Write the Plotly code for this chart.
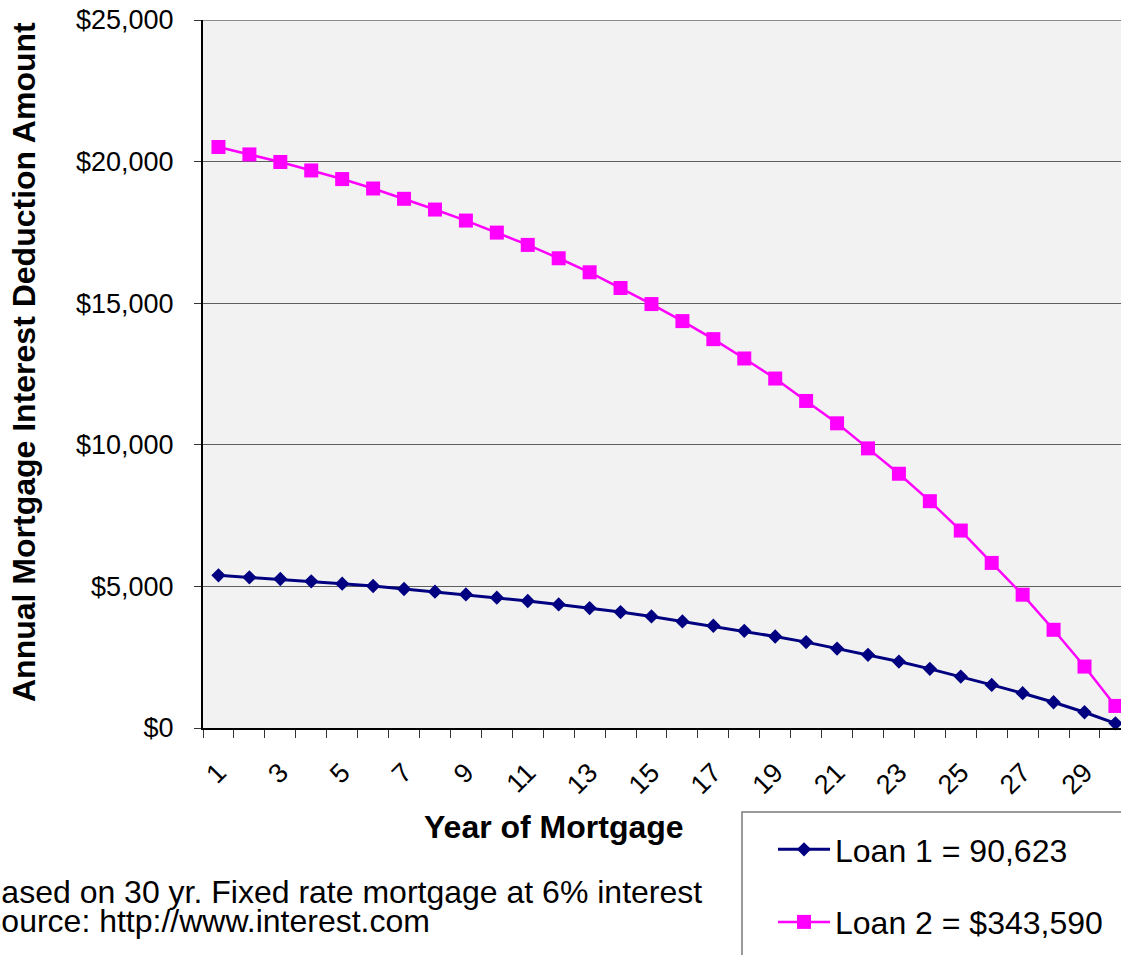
import plotly.graph_objects as go

# Year of the mortgage and annual interest deduction for each loan
years = list(range(1, 31))
loan1 = [5390, 5319, 5262, 5178, 5096, 5015, 4909, 4813, 4718, 4601,
         4484, 4364, 4236, 4095, 3939, 3762, 3610, 3433, 3231, 3033,
         2806, 2583, 2346, 2088, 1816, 1522, 1228, 910, 556, 166]
loan2 = [20516, 20254, 19985, 19688, 19383, 19050, 18686, 18307, 17918, 17493,
         17058, 16587, 16092, 15536, 14970, 14368, 13731, 13048, 12340, 11548,
         10759, 9874, 8978, 8009, 6972, 5829, 4707, 3468, 2169, 779]
loan1_name = "Loan 1 = 90,623"
loan2_name = "Loan 2 = $343,590"
x_labels = [str(v) for v in range(1, 30, 2)]
y_ticks = [0, 5000, 10000, 15000, 20000, 25000]
y_labels = ["$0", "$5,000", "$10,000", "$15,000", "$20,000", "$25,000"]

W, H = 1121, 955
L, T, B = 203, 20, 227
PW, PH = W - L, H - T - B
FONT = "Liberation Sans, Arial, sans-serif"


def px(x):
    return (x - L) / PW


def py(y):
    return (H - B - y) / PH


fig = go.Figure()
fig.add_trace(go.Scatter(
    x=years, y=loan1, name=loan1_name, mode="lines+markers",
    line=dict(color="#000080", width=3),
    marker=dict(symbol="diamond", size=11, color="#000080"),
    cliponaxis=False, legendgroup="a",
))
fig.add_trace(go.Scatter(
    x=years, y=loan2, name=loan2_name, mode="lines+markers",
    line=dict(color="#FF00FF", width=2.5),
    marker=dict(symbol="square", size=14, color="#FF00FF"),
    cliponaxis=False, legendgroup="b",
))

fig.update_layout(
    width=W, height=H,
    margin=dict(l=L, r=0, t=T, b=B, pad=0),
    paper_bgcolor="white",
    plot_bgcolor="#F2F2F2",
    font=dict(family=FONT, color="black", size=26),
    showlegend=True,
    legend=dict(
        x=px(773), y=py(822), xanchor="left", yanchor="top",
        font=dict(size=32, family=FONT, color="black"),
        bgcolor="rgba(0,0,0,0)", borderwidth=0,
        tracegroupgap=28, traceorder="grouped", itemwidth=52,
    ),
    xaxis=dict(
        range=[0.5, 30.18],
        tickmode="array", tickvals=list(range(1, 30, 2)), ticktext=x_labels,
        tickangle=-45, ticks="", ticklabelstandoff=16,
        tickfont=dict(size=27, family=FONT, color="black"),
        showline=True, linecolor="black", linewidth=2,
        showgrid=False, zeroline=False,
        minor=dict(tickvals=[i + 0.5 for i in range(0, 31)], ticks="outside",
                   ticklen=8, tickcolor="#333333", tickwidth=1, showgrid=False),
    ),
    yaxis=dict(
        range=[0, 25000],
        tickmode="array", tickvals=y_ticks, ticktext=y_labels,
        ticks="outside", ticklen=7, tickcolor="#333333",
        ticklabelstandoff=15,
        tickfont=dict(size=27, family=FONT, color="black"),
        showline=True, linecolor="black", linewidth=2,
        showgrid=True, gridcolor="#5f5f5f", gridwidth=1, zeroline=False,
    ),
)

# top edge of the plot area
fig.add_shape(type="line", xref="paper", yref="y", x0=0, x1=1.02,
              y0=25000, y1=25000, line=dict(color="#8c8c8c", width=2))

# frame around the legend
fig.add_shape(type="rect", xref="paper", yref="paper",
              x0=px(742), x1=px(1130), y0=py(812), y1=py(965),
              line=dict(color="#7a7a7a", width=1.5), fillcolor="rgba(0,0,0,0)")

fig.add_annotation(text="<b>Annual Mortgage Interest Deduction Amount</b>",
                   xref="paper", yref="paper", x=px(24), y=py(362),
                   xanchor="center", yanchor="middle", textangle=-90,
                   showarrow=False, font=dict(size=32, family=FONT, color="black"))
fig.add_annotation(text="<b>Year of Mortgage</b>",
                   xref="paper", yref="paper", x=px(554), y=py(827),
                   xanchor="center", yanchor="middle",
                   showarrow=False, font=dict(size=32, family=FONT, color="black"))
fig.add_annotation(text="Based on 30 yr. Fixed rate mortgage at 6% interest",
                   xref="paper", yref="paper", x=px(-22), y=py(892),
                   xanchor="left", yanchor="middle",
                   showarrow=False, font=dict(size=32, family=FONT, color="black"))
fig.add_annotation(text="Source: http://www.interest.com",
                   xref="paper", yref="paper", x=px(-22), y=py(921),
                   xanchor="left", yanchor="middle",
                   showarrow=False, font=dict(size=32, family=FONT, color="black"))

fig.write_html("out.html")
